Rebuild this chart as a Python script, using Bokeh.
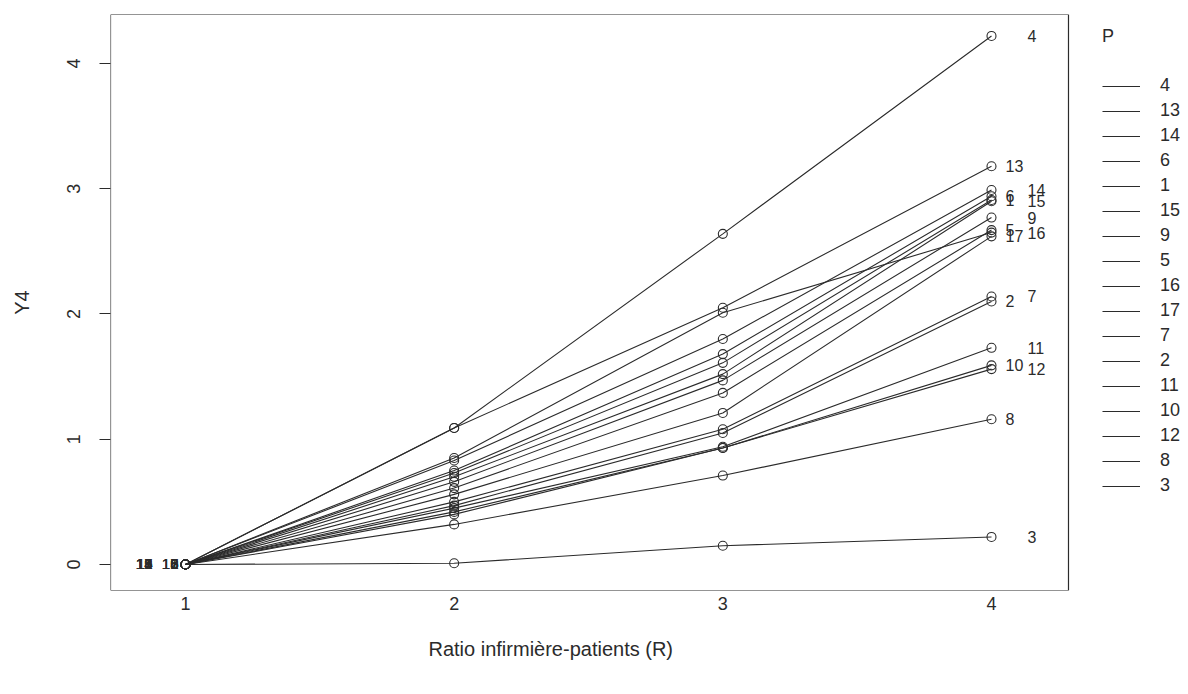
from bokeh.plotting import figure
from bokeh.models import (Range1d, FixedTicker, Legend, LegendItem, ColumnDataSource, BoxAnnotation, Title)
from bokeh.core.properties import value
from bokeh.embed import file_html
from bokeh.resources import INLINE

# ---- data ----
R_levels = [1, 2, 3, 4]
P_levels = ["4", "13", "14", "6", "1", "15", "9", "5", "16", "17", "7", "2", "11", "10", "12", "8", "3"]
y_r1 = [0, 0, 0, 0, 0, 0, 0, 0, 0, 0, 0, 0, 0, 0, 0, 0, 0]
y_r2 = [1.09, 1.09, 0.83, 0.75, 0.73, 0.70, 0.66, 0.61, 0.85, 0.56, 0.50, 0.47, 0.45, 0.42, 0.40, 0.32, 0.01]
y_r3 = [2.64, 2.05, 1.80, 1.68, 1.61, 1.52, 1.47, 1.37, 2.01, 1.21, 1.08, 1.05, 0.94, 0.93, 0.93, 0.71, 0.15]
y_r4 = [4.22, 3.18, 2.99, 2.94, 2.91, 2.90, 2.77, 2.67, 2.65, 2.62, 2.14, 2.10, 1.73, 1.59, 1.56, 1.16, 0.22]
y_ticks = [0, 1, 2, 3, 4]
x_title = "Ratio infirmière-patients (R)"
y_title = "Y4"

# label placement style (near / far from the end point)
label_far = [True, False, True, False, False, True, True, False, True, False, True, False, True, False, True, False, True]

FONT = "Liberation Sans"
INK = "#2b2b2b"

X0, X1, XBOX = 0.7209, 4.7035, 4.2866
Y0, Y1 = -0.2076, 4.3912

p = figure(width=1180, height=686, output_backend="svg", toolbar_location=None,
           x_range=Range1d(X0, X1), y_range=Range1d(Y0, Y1),
           min_border_left=110, min_border_right=0, min_border_top=14, min_border_bottom=96,
           background_fill_color="white", border_fill_color="white")
p.grid.visible = False
p.outline_line_color = None

# the R plot box
p.add_layout(BoxAnnotation(left=X0, right=XBOX, bottom=Y0, top=Y1, fill_alpha=0,
                           line_color=INK, line_alpha=1.0, line_width=1.2, level="underlay"))

# axes
p.xaxis.ticker = FixedTicker(ticks=R_levels)
p.yaxis.ticker = FixedTicker(ticks=y_ticks)
p.yaxis.axis_label = y_title
for ax in (p.xaxis[0], p.yaxis[0]):
    ax.axis_line_color = None
    ax.minor_tick_line_color = None
    ax.major_label_text_font = FONT
    ax.major_label_text_font_size = "18px"
    ax.major_label_text_color = INK
    ax.axis_label_text_font = FONT
    ax.axis_label_text_font_size = "20px"
    ax.axis_label_text_font_style = "normal"
    ax.axis_label_text_color = INK
p.xaxis.major_tick_line_color = None
p.xaxis.major_tick_out = 0
p.xaxis.major_tick_in = 0
p.xaxis.major_label_standoff = 6
p.yaxis.major_tick_line_color = INK
p.yaxis.major_tick_out = 11
p.yaxis.major_tick_in = 0
p.yaxis.major_label_orientation = "vertical"
p.yaxis.major_label_standoff = 19
p.yaxis.axis_label_standoff = 32

# x-axis title, centred under the R plot box (as in the reference)
p.add_layout(Title(text=x_title, align="left", offset=318, standoff=46,
                   text_font=FONT, text_font_size="20px", text_font_style="normal",
                   text_color=INK), "below")

items = []
for i, lab in enumerate(P_levels):
    ys = [y_r1[i], y_r2[i], y_r3[i], y_r4[i]]
    src = ColumnDataSource(dict(x=R_levels, y=ys))
    lr = p.line("x", "y", source=src, line_color=INK, line_width=1.1)
    p.scatter("x", "y", source=src, marker="circle", size=9, fill_color=None,
              line_color=INK, line_width=1.1)
    items.append(LegendItem(label=lab, renderers=[lr]))

# labels at the line ends (R = 4) and at the start (R = 1)
end_src = ColumnDataSource(dict(x=[R_levels[-1]] * len(P_levels), y=y_r4, t=P_levels,
                                dx=[36 if f else 14 for f in label_far]))
p.text("x", "y", text="t", source=end_src, x_offset="dx", text_align="left",
       text_baseline="middle", text_font=value(FONT), text_font_size="16px", text_color=INK)
start_src = ColumnDataSource(dict(x=[R_levels[0]] * len(P_levels), y=y_r1, t=P_levels,
                                  dx=[-33 if f else -7 for f in label_far]))
p.text("x", "y", text="t", source=start_src, x_offset="dx", text_align="right",
       text_baseline="middle", text_font=value(FONT), text_font_size="15px", text_color=INK)

legend = Legend(items=items, location=(992, 94), title="P")
legend.title_text_font = FONT
legend.title_text_font_size = "18px"
legend.title_text_font_style = "normal"
legend.title_text_color = INK
legend.title_standoff = 28
legend.label_text_font = FONT
legend.label_text_font_size = "18px"
legend.label_text_color = INK
legend.glyph_width = 38
legend.glyph_height = 20
legend.label_height = 20
legend.label_standoff = 20
legend.spacing = 4
legend.padding = 10
legend.margin = 0
legend.border_line_color = None
legend.background_fill_alpha = 0
p.add_layout(legend)

open("out.html", "w").write(file_html(p, INLINE))
